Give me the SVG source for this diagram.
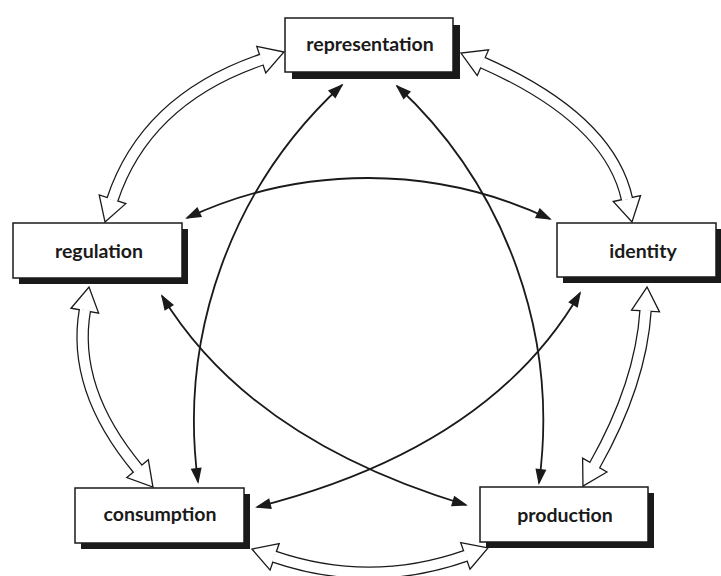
<svg xmlns="http://www.w3.org/2000/svg" width="721" height="576" viewBox="0 0 721 576">
<defs>
<style>
.bo{fill:none;stroke:#1a1a1a;stroke-width:12.5;marker-start:url(#hh);marker-end:url(#hh)}
.bi{fill:none;stroke:#fff;stroke-width:10}
.ln{fill:none;stroke:#1a1a1a;stroke-width:1.8;marker-start:url(#ah);marker-end:url(#ah)}
.sh{fill:#1a1a1a}
.bx{fill:#fff;stroke:#1a1a1a;stroke-width:1.5}
.lb{font-family:Lato,"Open Sans","DejaVu Sans",sans-serif;font-weight:bold;font-size:19.5px;fill:#1a1a1a;text-anchor:middle}
</style>
<marker id="hh" markerUnits="userSpaceOnUse" orient="auto-start-reverse" refX="0" refY="0" markerWidth="1" markerHeight="1" overflow="visible">
<path d="M-1,-14 L23,0 L-1,14 Z" fill="#fff" stroke="#1a1a1a" stroke-width="1.3" stroke-linejoin="miter"/>
</marker>
<marker id="ah" markerUnits="userSpaceOnUse" orient="auto-start-reverse" refX="0" refY="0" markerWidth="1" markerHeight="1" overflow="visible">
<path d="M-14,-5.5 L2,0 L-14,5.5 Z" fill="#1a1a1a"/>
</marker>
</defs>
<rect width="721" height="576" fill="#fff"/>
<g id="connectors">
<path class="bo" d="M262.2,59.4 Q145.5,99 112.2,200.2"/>
<path class="bi" d="M262.2,59.4 Q145.5,99 112.2,200.2"/>
<path class="bo" d="M482,62.3 Q609.5,118.5 627.1,199.5"/>
<path class="bi" d="M482,62.3 Q609.5,118.5 627.1,199.5"/>
<path class="bo" d="M85,309.7 Q71,389 138.2,469.4"/>
<path class="bi" d="M85,309.7 Q71,389 138.2,469.4"/>
<path class="bo" d="M645.6,310 Q641,383.5 594.3,466"/>
<path class="bi" d="M645.6,310 Q641,383.5 594.3,466"/>
<path class="bo" d="M273.7,556.5 Q370,589.5 466.3,555.6"/>
<path class="bi" d="M273.7,556.5 Q370,589.5 466.3,555.6"/>
<path class="ln" d="M342,85 A457,457 0 0 0 198,482"/>
<path class="ln" d="M397,86 A457,457 0 0 1 539,483"/>
<path class="ln" d="M187,218 A427,427 0 0 1 550,219"/>
<path class="ln" d="M162,296 Q250,440 466,505"/>
<path class="ln" d="M580,293 Q490,448 257,507"/>
</g>
<g id="representation">
<rect class="sh" x="292" y="25" width="168" height="54"/>
<rect class="bx" x="285" y="18" width="168" height="54"/>
<text class="lb" x="370" y="51">representation</text>
</g>
<g id="regulation">
<rect class="sh" x="19" y="229" width="169" height="55"/>
<rect class="bx" x="13" y="223" width="169" height="55"/>
<text class="lb" x="99" y="258">regulation</text>
</g>
<g id="identity">
<rect class="sh" x="563" y="229" width="159" height="54"/>
<rect class="bx" x="557" y="223" width="159" height="54"/>
<text class="lb" x="643" y="258">identity</text>
</g>
<g id="consumption">
<rect class="sh" x="81" y="494" width="169" height="55"/>
<rect class="bx" x="75" y="488" width="169" height="55"/>
<text class="lb" x="160" y="521">consumption</text>
</g>
<g id="production">
<rect class="sh" x="486" y="493" width="168" height="55"/>
<rect class="bx" x="480" y="487" width="168" height="55"/>
<text class="lb" x="565" y="522">production</text>
</g>
</svg>
